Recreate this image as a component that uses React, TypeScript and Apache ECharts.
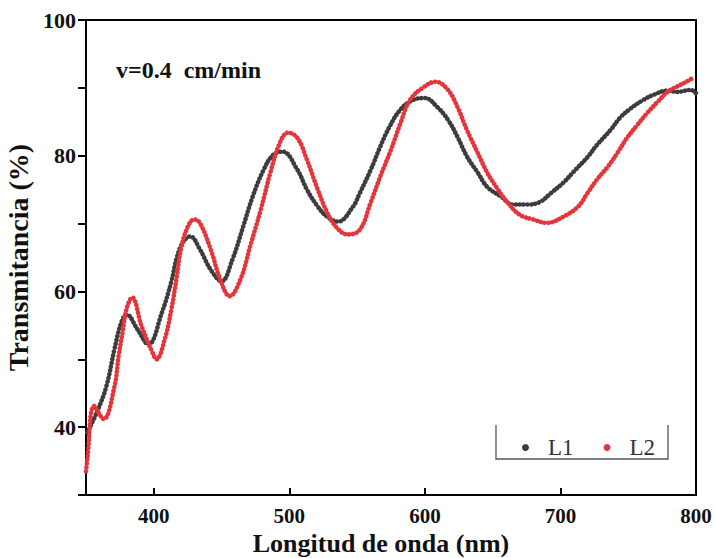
import React, { useEffect, useRef } from "react";
import * as echarts from "echarts";

const SERIES_NAMES = ["L1", "L2"];

const L1_X = [351, 358, 365, 371, 376, 380, 388, 396, 406, 413, 417, 422, 427, 434, 442, 450, 458, 466, 473, 481, 488, 495, 506, 513, 521, 528, 536, 547, 552, 560, 567, 574, 582, 591, 600, 609, 617, 624, 631, 639, 646, 656, 665, 676, 685, 693, 702, 710, 720, 727, 737, 744, 752, 761, 769, 779, 786, 796, 800];
const L1_Y = [39.2, 42.2, 46.0, 51.5, 55.4, 56.6, 54.4, 52.2, 56.9, 61.5, 65.0, 67.4, 68.1, 66.2, 63.2, 61.5, 64.7, 69.6, 74.0, 77.9, 80.1, 80.6, 77.9, 75.0, 72.5, 71.0, 70.3, 72.5, 74.5, 77.9, 81.3, 84.3, 86.8, 88.2, 88.5, 87.2, 85.3, 82.8, 79.9, 77.5, 75.4, 74.0, 72.8, 72.8, 73.2, 74.5, 76.0, 77.7, 79.8, 81.6, 83.8, 85.6, 87.0, 88.2, 89.0, 89.6, 89.4, 89.7, 89.2];

const L2_X = [350, 351, 356, 363, 371, 374, 377, 380, 384, 391, 399, 402, 408, 413, 417, 420, 425, 430, 434, 442, 449, 456, 464, 471, 479, 486, 493, 499, 506, 513, 521, 528, 535, 543, 552, 560, 567, 575, 582, 589, 599, 608, 617, 624, 631, 639, 646, 654, 661, 670, 680, 690, 702, 713, 720, 727, 735, 742, 749, 757, 764, 772, 779, 786, 792, 798];
const L2_Y = [33.5, 35.3, 43.1, 41.2, 46.0, 50.4, 54.0, 57.5, 59.1, 54.9, 51.0, 50.0, 52.9, 57.4, 62.2, 66.2, 69.5, 70.6, 70.1, 66.2, 61.8, 59.3, 61.8, 66.6, 72.1, 77.5, 81.9, 83.4, 82.6, 79.4, 75.0, 71.6, 69.4, 68.4, 69.1, 73.1, 76.9, 80.9, 84.8, 88.2, 90.1, 90.9, 89.7, 87.2, 83.8, 80.4, 77.5, 75.0, 73.1, 71.3, 70.6, 70.1, 71.0, 72.5, 74.5, 76.5, 78.4, 80.4, 82.6, 84.6, 86.3, 88.0, 89.4, 90.2, 90.8, 91.5];

const X_TICKS = [400, 500, 600, 700, 800];
const Y_LABELS = [40, 60, 80, 100];

const COLORS = ["#3c3c3c", "#e5353a"];
const SERIF = "'Liberation Serif', 'Times New Roman', serif";

export default function App() {
  const ref = useRef<HTMLDivElement>(null);

  useEffect(() => {
    if (!ref.current) return;
    const chart = echarts.init(ref.current, undefined, { renderer: "svg" });
    const d1 = L1_X.map((x, i) => [x, L1_Y[i]]);
    const d2 = L2_X.map((x, i) => [x, L2_Y[i]]);
    const mkSeries = (name: string, data: number[][], color: string) => ({
      name,
      type: "line",
      data,
      smooth: 0.4,
      showSymbol: false,
      symbol: "circle",
      itemStyle: { color },
      lineStyle: { color, width: 4.6, type: [0.1, 3.8], cap: "round" },
    });
    chart.setOption({
      animation: false,
      backgroundColor: "#fff",
      title: {
        text: "v=0.4  cm/min",
        left: 111,
        top: 53,
        textStyle: { fontFamily: SERIF, fontWeight: "bold", fontSize: 24, color: "#111" },
      },
      legend: {
        data: SERIES_NAMES,
        left: 517,
        top: 431,
        icon: "circle",
        itemWidth: 7,
        itemHeight: 7,
        itemGap: 30,
        textStyle: { fontFamily: SERIF, fontSize: 23, color: "#333", padding: [0, 0, 0, 14] },
      },
      grid: {
        left: 86,
        right: 19,
        top: 20,
        bottom: 63,
        outerBoundsMode: "none",
        containLabel: false,
        show: true,
        borderColor: "#000",
        borderWidth: 2,
      },
      xAxis: {
        type: "value",
        min: 350,
        max: 800,
        name: "Longitud de onda (nm)",
        nameLocation: "middle",
        nameGap: 31,
        nameTextStyle: { fontFamily: SERIF, fontWeight: "bold", fontSize: 26, color: "#111", padding: [0, 20, 0, 0] },
        splitLine: { show: false },
        axisLine: { lineStyle: { color: "#000", width: 2 } },
        axisTick: { inside: true, length: 7, customValues: X_TICKS, lineStyle: { color: "#000", width: 2 } },
        axisLabel: { customValues: X_TICKS, margin: 10, fontFamily: SERIF, fontWeight: "bold", fontSize: 21, color: "#111" },
      },
      yAxis: {
        type: "value",
        min: 30,
        max: 100,
        interval: 10,
        name: "Transmitancia (%)",
        nameLocation: "middle",
        nameGap: 49,
        nameTextStyle: { fontFamily: SERIF, fontWeight: "bold", fontSize: 28, color: "#111" },
        splitLine: { show: false },
        axisLine: { lineStyle: { color: "#000", width: 2 } },
        axisTick: { length: 8, lineStyle: { color: "#000", width: 2 } },
        axisLabel: { customValues: Y_LABELS, margin: 10, fontFamily: SERIF, fontWeight: "bold", fontSize: 22, color: "#111" },
      },
      graphic: [
        {
          type: "polyline",
          shape: { points: [[496, 425], [496, 459], [668, 459], [668, 425]] },
          style: { stroke: "#555", lineWidth: 1.3, fill: "none" },
          silent: true,
        },
      ],
      series: [mkSeries(SERIES_NAMES[0], d1, COLORS[0]), mkSeries(SERIES_NAMES[1], d2, COLORS[1])],
    });
    return () => chart.dispose();
  }, []);

  return <div ref={ref} style={{ width: 715, height: 558, position: "absolute", left: 0, top: 0 }} />;
}
